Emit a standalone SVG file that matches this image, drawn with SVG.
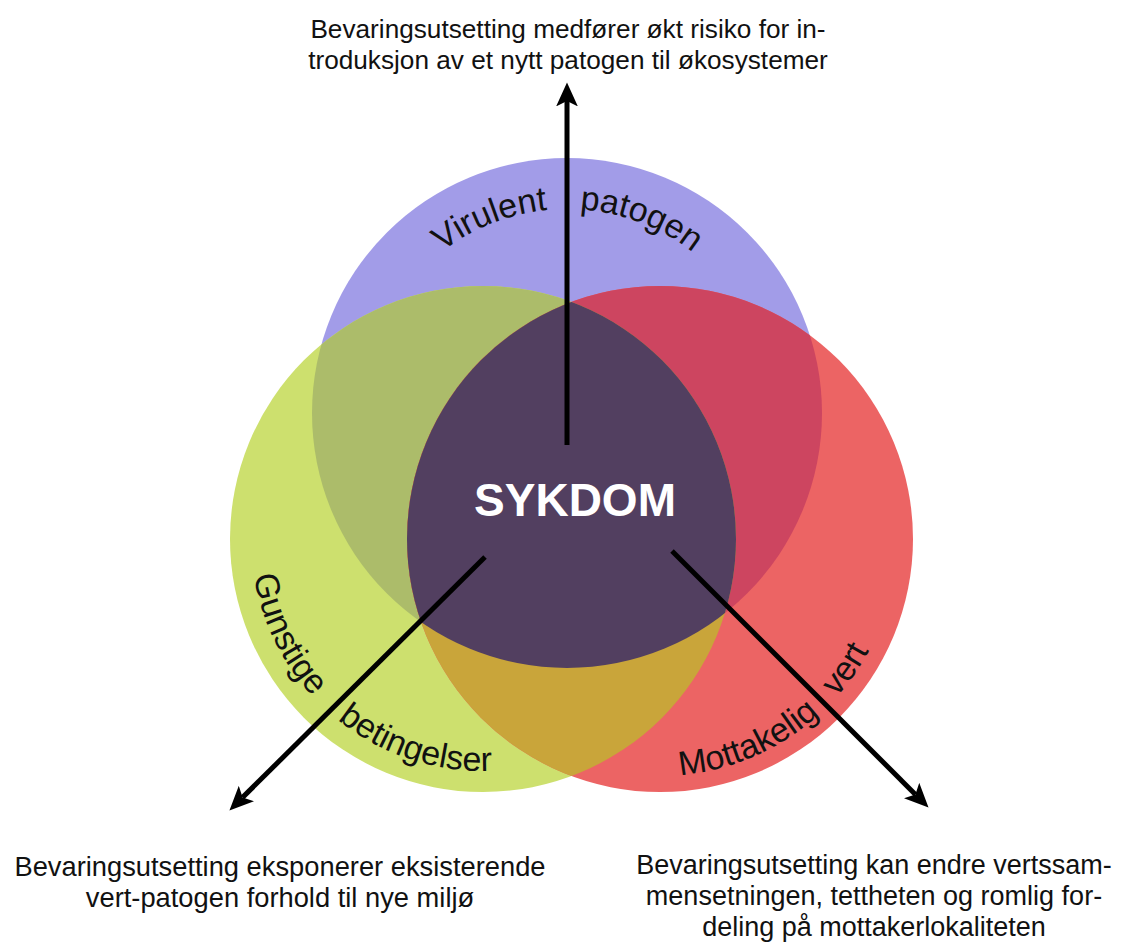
<svg xmlns="http://www.w3.org/2000/svg" width="1129" height="943" viewBox="0 0 1129 943">
<style>
.lbl{font-family:"Liberation Sans",Arial,sans-serif;fill:#111;}
.cap{font-size:27px;text-anchor:middle;}
.arc{font-size:34px;}
.conn{stroke:#000;stroke-width:5;fill:none;marker-end:url(#ah);}
</style>
<defs>
<marker id="ah" markerUnits="userSpaceOnUse" markerWidth="24" markerHeight="24" refX="5" refY="10" orient="auto" viewBox="0 0 22 20">
<path d="M0,0 L22,10 L0,20 L5,10 Z" fill="#000"/>
</marker>
<clipPath id="cB"><circle cx="567" cy="413" r="255"/></clipPath>
<clipPath id="cG"><circle cx="483" cy="539" r="253"/></clipPath>
<path id="pB" d="M363,413 A204,204 0 0 1 771,413"/>
<path id="pG" d="M251,539 A232,232 0 0 0 715,539"/>
<path id="pR" d="M423,539 A237,237 0 0 0 897,539"/>
</defs>
<rect width="1129" height="943" fill="#fff"/>
<g id="pathogen">
<circle cx="567" cy="413" r="255" fill="#a29ce8"/>
</g>
<g id="environment">
<circle cx="483" cy="539" r="253" fill="#cde06e"/>
<circle cx="483" cy="539" r="253" fill="#acbc6a" clip-path="url(#cB)"/>
</g>
<g id="host">
<circle cx="660" cy="539" r="253" fill="#ec6464"/>
<circle cx="660" cy="539" r="253" fill="#cd4560" clip-path="url(#cB)"/>
<circle cx="660" cy="539" r="253" fill="#c9a53a" clip-path="url(#cG)"/>
</g>
<g id="disease">
<g clip-path="url(#cB)"><circle cx="660" cy="539" r="253" fill="#523f60" clip-path="url(#cG)"/></g>
<text class="lbl" x="575" y="516" font-size="46" font-weight="bold" text-anchor="middle" style="fill:#fff">SYKDOM</text>
</g>
<g id="labels-circles">
<text class="lbl arc"><textPath href="#pB" startOffset="186">Virulent</textPath></text>
<text class="lbl arc"><textPath href="#pB" startOffset="333">patogen</textPath></text>
<text class="lbl arc"><textPath href="#pG" startOffset="37">Gunstige</textPath></text>
<text class="lbl arc"><textPath href="#pG" startOffset="207">betingelser</textPath></text>
<text class="lbl arc"><textPath href="#pR" startOffset="392">Mottakelig</textPath></text>
<text class="lbl arc" text-anchor="end"><textPath href="#pR" startOffset="628">vert</textPath></text>
</g>
<g id="connectors">
<line class="conn" x1="567" y1="445" x2="567" y2="101"/>
<line class="conn" x1="485" y1="557" x2="242.6" y2="797.4"/>
<line class="conn" x1="672" y1="551" x2="915.4" y2="794.4"/>
</g>
<g id="note-top">
<text class="lbl cap" x="568" y="38" font-size="26.2" style="font-size:26.2px">Bevaringsutsetting medfører økt risiko for in-</text>
<text class="lbl cap" x="568" y="69" style="font-size:26.2px">troduksjon av et nytt patogen til økosystemer</text>
</g>
<g id="note-left">
<text class="lbl cap" x="280" y="876" style="font-size:27.3px">Bevaringsutsetting eksponerer eksisterende</text>
<text class="lbl cap" x="280" y="907" style="font-size:27.3px">vert-patogen forhold til nye miljø</text>
</g>
<g id="note-right">
<text class="lbl cap" x="874" y="874">Bevaringsutsetting kan endre vertssam-</text>
<text class="lbl cap" x="874" y="905">mensetningen, tettheten og romlig for-</text>
<text class="lbl cap" x="874" y="936">deling på mottakerlokaliteten</text>
</g>
</svg>
